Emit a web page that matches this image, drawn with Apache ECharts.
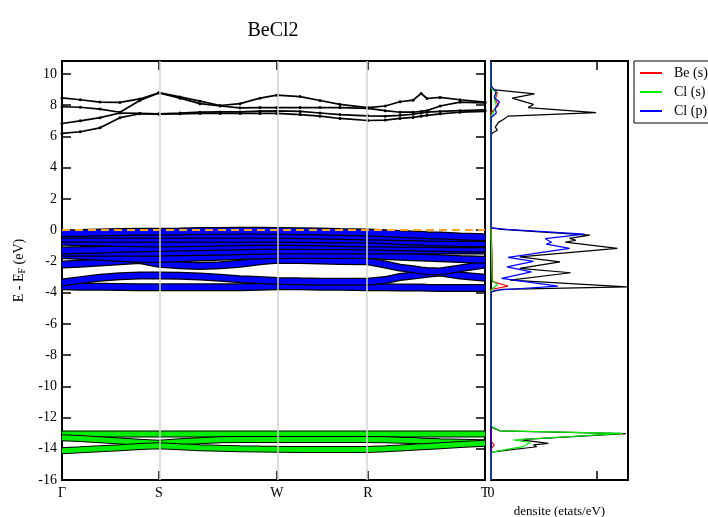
<!DOCTYPE html>
<html>
<head>
<meta charset="utf-8">
<title>BeCl2</title>
<script src="https://cdn.jsdelivr.net/npm/echarts@6/dist/echarts.min.js"></script>
<style>
  * { margin: 0; padding: 0; }
  body { background: #fff; }
</style>
</head>
<body>
<div id="main" style="width: 708px; height: 517px;"></div>
<script type="text/javascript">
// high-symmetry points along the k path
var kPos = [0, 0.229, 0.508, 0.723, 1];
var kLabels = ['Γ', 'S', 'W', 'R', 'T'];

// k points where the bands were read
var kGrid = [0, 0.043, 0.090, 0.137, 0.184, 0.229, 0.279, 0.326, 0.374, 0.421, 0.468, 0.508,
             0.563, 0.610, 0.657, 0.723, 0.764, 0.799, 0.830, 0.849, 0.863, 0.894, 0.941, 1.0];

// conduction bands (eV)
var cb1 = [8.47, 8.35, 8.2, 8.18, 8.4, 8.8, 8.53, 8.26, 7.98, 8.1, 8.45, 8.64, 8.55, 8.3, 8.05, 7.85, 7.95, 8.22, 8.32, 8.75, 8.43, 8.5, 8.35, 8.2];
var cb2 = [7.9, 7.87, 7.75, 7.55, 8.3, 8.78, 8.45, 8.1, 7.95, 7.83, 7.85, 7.85, 7.85, 7.85, 7.85, 7.8, 7.65, 7.55, 7.55, 7.6, 7.65, 7.95, 8.2, 8.15];
var cb3 = [6.83, 7.0, 7.2, 7.5, 7.48, 7.45, 7.5, 7.55, 7.57, 7.57, 7.62, 7.63, 7.6, 7.5, 7.4, 7.32, 7.3, 7.35, 7.42, 7.5, 7.55, 7.6, 7.65, 7.7];
var cb4 = [6.19, 6.3, 6.55, 7.2, 7.45, 7.42, 7.45, 7.47, 7.47, 7.47, 7.47, 7.47, 7.4, 7.3, 7.15, 7.02, 7.05, 7.15, 7.22, 7.3, 7.35, 7.45, 7.55, 7.6];

// valence bands, Cl (p) character
var vb1 = [-0.2, -0.18, -0.15, -0.12, -0.1, -0.1, -0.08, -0.06, -0.05, -0.04, -0.04, -0.05, -0.07, -0.09, -0.12, -0.15, -0.2, -0.25, -0.28, -0.3, -0.32, -0.35, -0.4, -0.45];
var vb2 = [-0.3, -0.3, -0.3, -0.3, -0.3, -0.3, -0.3, -0.3, -0.3, -0.3, -0.3, -0.3, -0.32, -0.35, -0.38, -0.4, -0.42, -0.45, -0.46, -0.47, -0.48, -0.5, -0.5, -0.5];
var vb3 = [-0.55, -0.55, -0.55, -0.55, -0.55, -0.55, -0.55, -0.55, -0.55, -0.55, -0.55, -0.55, -0.57, -0.58, -0.6, -0.6, -0.65, -0.7, -0.73, -0.75, -0.77, -0.8, -0.83, -0.85];
var vb4 = [-0.75, -0.77, -0.8, -0.82, -0.84, -0.85, -0.84, -0.82, -0.8, -0.78, -0.76, -0.75, -0.78, -0.8, -0.83, -0.85, -0.86, -0.87, -0.88, -0.88, -0.89, -0.9, -0.9, -0.9];
var vb5 = [-1.3, -1.28, -1.25, -1.2, -1.17, -1.15, -1.12, -1.1, -1.07, -1.05, -1.02, -1.0, -1.02, -1.03, -1.04, -1.05, -1.08, -1.1, -1.12, -1.13, -1.14, -1.15, -1.18, -1.2];
var vb6 = [-1.45, -1.45, -1.45, -1.45, -1.45, -1.45, -1.42, -1.4, -1.38, -1.35, -1.32, -1.3, -1.3, -1.3, -1.3, -1.3, -1.3, -1.3, -1.3, -1.3, -1.3, -1.3, -1.3, -1.3];
var vb7 = [-1.6, -1.65, -1.7, -1.78, -1.85, -1.85, -1.8, -1.75, -1.7, -1.65, -1.62, -1.6, -1.6, -1.6, -1.6, -1.6, -1.65, -1.7, -1.73, -1.75, -1.77, -1.8, -1.85, -1.9];
var vb8 = [-2.2, -2.15, -2.08, -2.0, -1.92, -2.15, -2.25, -2.3, -2.25, -2.15, -2.0, -1.9, -1.92, -1.95, -1.97, -2.0, -2.2, -2.4, -2.5, -2.58, -2.62, -2.65, -2.45, -2.2];
var vb9 = [-3.35, -3.2, -3.05, -2.95, -2.9, -2.9, -2.92, -2.97, -3.05, -3.14, -3.2, -3.25, -3.28, -3.3, -3.3, -3.3, -3.2, -3.0, -2.9, -2.85, -2.8, -2.72, -2.9, -3.05];
var vb10 = [-3.6, -3.62, -3.63, -3.64, -3.65, -3.65, -3.65, -3.65, -3.65, -3.65, -3.63, -3.6, -3.6, -3.62, -3.63, -3.65, -3.66, -3.67, -3.68, -3.68, -3.69, -3.7, -3.7, -3.7];

// semi-core bands, Cl (s) character
var sb1 = [-13.05, -13.05, -13.05, -13.05, -13.05, -13.05, -13.05, -13.05, -13.05, -13.05, -13.05, -13.05, -13.05, -13.05, -13.05, -13.05, -13.05, -13.05, -13.05, -13.05, -13.05, -13.05, -13.05, -13.05];
var sb2 = [-13.3, -13.35, -13.42, -13.5, -13.58, -13.65, -13.55, -13.48, -13.42, -13.4, -13.4, -13.4, -13.4, -13.4, -13.4, -13.4, -13.42, -13.45, -13.47, -13.5, -13.52, -13.55, -13.58, -13.62];
var sb3 = [-14.12, -14.07, -14.0, -13.93, -13.85, -13.8, -13.87, -13.93, -13.97, -14.0, -14.02, -14.03, -14.04, -14.04, -14.04, -14.04, -14.0, -13.95, -13.9, -13.87, -13.85, -13.8, -13.72, -13.65];

// densities of states (etats/eV) against energy (eV)
var totE = [10.8, 9.3, 9.0, 8.72, 8.45, 8.05, 7.85, 7.53, 7.3, 7.1, 6.9, 6.6, 6.4, 6.2, 6.0,
            0.15, 0.05, -0.32, -0.53, -0.65, -0.77, -1.17, -1.71, -2.03, -2.45, -2.73, -3.2, -3.63, -3.8, -3.95,
            -12.6, -12.85, -13.03, -13.42, -13.65, -13.75, -13.87, -14.2, -14.3, -16];
var totD = [0, 0, 0.2, 4.1, 2.0, 4.0, 3.5, 9.9, 1.6, 1.2, 0.7, 0.4, 0.6, 0.1, 0,
            0, 1.0, 9.3, 7.4, 8.0, 7.0, 11.9, 2.7, 6.5, 2.7, 7.5, 1.8, 12.8, 1.0, 0,
            0, 0.8, 12.7, 2.7, 5.4, 4.0, 4.3, 0.2, 0, 0];
var beSE = [10.8, 9.1, 8.8, 8.4, 8.0, 7.5, 0.1, -1.5, -3.3, -3.58, -3.8, -13.5, -13.76, -14.0, -16];
var beSD = [0, 0, 0.6, 0.4, 0.7, 0, 0, 0.1, 0.15, 1.6, 0, 0, 0.3, 0, 0];
var clSE = [10.8, 9.1, 8.8, 8.4, 8.0, 7.6, 7.3, 0.1, -3.2, -3.5, -3.7, -3.9, -12.55, -12.85, -13.01, -13.44, -13.6, -13.86, -14.2, -14.3, -16];
var clSD = [0, 0, 0.5, 0.3, 0.5, 0.3, 0, 0, 0.1, 0.6, 0.2, 0, 0, 0.85, 12.4, 2.1, 3.7, 3.0, 0.2, 0, 0];
var clPE = [10.8, 9.2, 8.9, 8.5, 8.2, 7.8, 7.5, 7.2, 0.15, 0.05, -0.25, -0.55, -0.77, -0.9, -1.17, -1.75, -2.0, -2.35, -2.67, -3.09, -3.58, -3.85, -4.0, -16];
var clPD = [0, 0, 0.5, 0.3, 0.8, 0.4, 0.5, 0, 0, 1.5, 8.8, 5.1, 5.7, 5.2, 7.4, 1.6, 4.0, 1.5, 3.8, 1.0, 6.3, 0.4, 0, 0];

var serif = 'Liberation Serif';
var myChart = echarts.init(document.getElementById('main'));

function pairs(xs, ys) {
    return xs.map(function (x, i) { return [x, ys[i]]; });
}

var series = [];

// vertical lines at the high-symmetry points
series.push({
    type: 'line', xAxisIndex: 0, yAxisIndex: 0, data: [], z: 1, silent: true,
    markLine: {
        silent: true, symbol: 'none', label: { show: false },
        lineStyle: { color: '#d4d4d4', width: 1.5, type: 'solid' },
        data: kPos.slice(1, 4).map(function (k) { return { xAxis: k }; })
    }
});

// fat bands: black outline then coloured strip
function fatBand(vals, color, outer, inner) {
    series.push({
        type: 'line', xAxisIndex: 0, yAxisIndex: 0, z: 2, silent: true,
        data: pairs(kGrid, vals), showSymbol: false,
        lineStyle: { color: '#000', width: outer }
    });
    series.push({
        type: 'line', xAxisIndex: 0, yAxisIndex: 0, z: 2, silent: true,
        data: pairs(kGrid, vals), showSymbol: false,
        lineStyle: { color: color, width: inner }
    });
}
[sb1, sb2, sb3].forEach(function (b) { fatBand(b, '#00ee00', 7, 5); });
[vb10, vb9, vb8, vb7, vb6, vb5, vb4, vb3, vb2, vb1].forEach(function (b) { fatBand(b, '#0000ff', 8, 5.5); });

[cb1, cb2, cb3, cb4].forEach(function (b) {
    series.push({
        type: 'line', xAxisIndex: 0, yAxisIndex: 0, z: 2, silent: true,
        data: pairs(kGrid, b), symbol: 'circle', symbolSize: 3, showSymbol: true,
        itemStyle: { color: '#000' },
        lineStyle: { color: '#000', width: 1.7 }
    });
});

// Fermi level
series.push({
    type: 'line', xAxisIndex: 0, yAxisIndex: 0, data: [], z: 5, silent: true,
    markLine: {
        silent: true, symbol: 'none', label: { show: false },
        lineStyle: { color: '#f5a623', width: 2, type: [8, 5] },
        data: [{ yAxis: 0 }]
    }
});

// DOS panel
series.push({
    name: 'total', type: 'line', xAxisIndex: 2, yAxisIndex: 2, showSymbol: false,
    data: pairs(totD, totE), lineStyle: { color: '#000', width: 1.2 }, itemStyle: { color: '#000' }
});
series.push({
    name: 'Be (s)', type: 'line', xAxisIndex: 2, yAxisIndex: 2, showSymbol: false,
    data: pairs(beSD, beSE), lineStyle: { color: '#ff0000', width: 1.2 }, itemStyle: { color: '#ff0000' }
});
series.push({
    name: 'Cl (s)', type: 'line', xAxisIndex: 2, yAxisIndex: 2, showSymbol: false,
    data: pairs(clSD, clSE), lineStyle: { color: '#00ee00', width: 1.2 }, itemStyle: { color: '#00ee00' }
});
series.push({
    name: 'Cl (p)', type: 'line', xAxisIndex: 2, yAxisIndex: 2, showSymbol: false,
    data: pairs(clPD, clPE), lineStyle: { color: '#0000ff', width: 1.2 }, itemStyle: { color: '#0000ff' }
});

var tickStyle = { show: true, inside: true, length: 9, lineStyle: { color: '#000', width: 1.5 } };
var noLine = { show: false, onZero: false };

var option = {
    animation: false,
    backgroundColor: '#fff',
    graphic: [{
        type: 'text', x: 273, y: 31,
        style: { text: 'BeCl2', fontFamily: serif, fontSize: 20, fill: '#000', textAlign: 'center', textVerticalAlign: 'middle' }
    }],
    legend: {
        data: ['Be (s)', 'Cl (s)', 'Cl (p)'],
        orient: 'vertical', left: 634, top: 61,
        padding: [5, 40, 5, 6], itemGap: 5,
        itemWidth: 22, itemHeight: 2, icon: 'rect',
        borderColor: '#000', borderWidth: 1,
        formatter: function (n) { return '  ' + n; },
        textStyle: { fontFamily: serif, fontSize: 14, color: '#000', lineHeight: 14 }
    },
    grid: [
        { left: 62, top: 61, width: 423, height: 419, outerBoundsMode: 'none', show: true, borderColor: '#000', borderWidth: 2, backgroundColor: 'transparent' },
        { left: 491, top: 61, width: 137, height: 419, outerBoundsMode: 'none', show: true, borderColor: '#000', borderWidth: 2, backgroundColor: 'transparent' }
    ],
    xAxis: [
        {
            gridIndex: 0, type: 'value', min: 0, max: 1, position: 'bottom',
            axisLine: noLine, splitLine: { show: false },
            axisTick: Object.assign({ customValues: kPos.slice(1, 4) }, tickStyle),
            axisLabel: {
                customValues: kPos, margin: 6,
                fontFamily: serif, fontSize: 14, color: '#000',
                formatter: function (v) {
                    for (var i = 0; i < kPos.length; i++) {
                        if (Math.abs(kPos[i] - v) < 1e-6) return kLabels[i];
                    }
                    return '';
                }
            }
        },
        {
            gridIndex: 0, type: 'value', min: 0, max: 1, position: 'top',
            axisLine: noLine, splitLine: { show: false }, axisLabel: { show: false },
            axisTick: Object.assign({ customValues: kPos.slice(1, 4) }, tickStyle)
        },
        {
            gridIndex: 1, type: 'value', min: 0, max: 12.9, position: 'bottom',
            axisLine: noLine, splitLine: { show: false },
            axisTick: Object.assign({ customValues: [10] }, tickStyle),
            axisLabel: { customValues: [0], margin: 6, fontFamily: serif, fontSize: 14, color: '#000' },
            name: 'densite (etats/eV)', nameLocation: 'middle', nameGap: 21,
            nameTextStyle: { fontFamily: serif, fontSize: 13, color: '#000' }
        },
        {
            gridIndex: 1, type: 'value', min: 0, max: 12.9, position: 'top',
            axisLine: noLine, splitLine: { show: false }, axisLabel: { show: false },
            axisTick: Object.assign({ customValues: [10] }, tickStyle)
        }
    ],
    yAxis: [
        {
            gridIndex: 0, type: 'value', min: -16, max: 10.83, interval: 2, position: 'left',
            axisLine: noLine, splitLine: { show: false }, axisTick: tickStyle,
            axisLabel: { margin: 5, showMaxLabel: false, fontFamily: serif, fontSize: 14, color: '#000' },
            name: '{a|E - E}{b|F}{a| (eV)}', nameLocation: 'middle', nameGap: 31, nameRotate: 90,
            nameTextStyle: {
                fontFamily: serif, fontSize: 14, color: '#000',
                rich: {
                    a: { fontFamily: serif, fontSize: 14, color: '#000' },
                    b: { fontFamily: serif, fontSize: 10, color: '#000', verticalAlign: 'bottom', padding: [6, 0, 0, 0] }
                }
            }
        },
        {
            gridIndex: 0, type: 'value', min: -16, max: 10.83, interval: 2, position: 'right',
            axisLine: noLine, splitLine: { show: false }, axisTick: tickStyle, axisLabel: { show: false }
        },
        {
            gridIndex: 1, type: 'value', min: -16, max: 10.83, interval: 2,
            axisLine: noLine, splitLine: { show: false }, axisTick: { show: false }, axisLabel: { show: false }
        }
    ],
    series: series
};

myChart.setOption(option);
</script>
</body>
</html>
